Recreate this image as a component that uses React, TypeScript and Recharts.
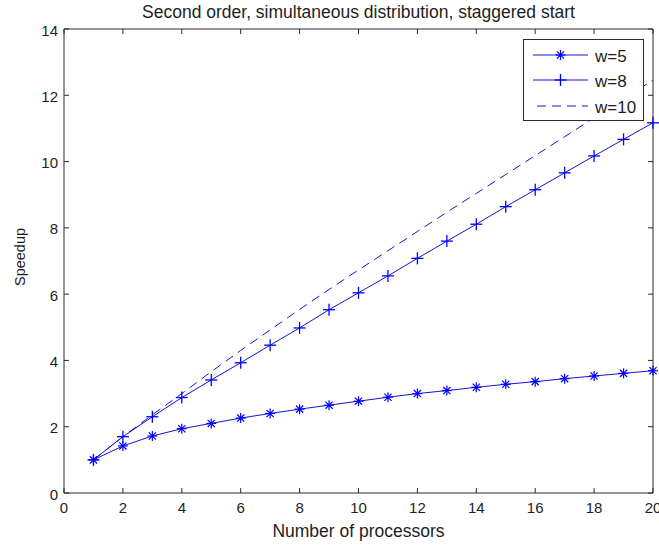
import React from "react";
import { LineChart, Line, XAxis, YAxis } from "recharts";

// Number of processors (x) and measured speedups for three window sizes
const processors = [1, 2, 3, 4, 5, 6, 7, 8, 9, 10, 11, 12, 13, 14, 15, 16, 17, 18, 19, 20];
const speedupW5 = [1.0, 1.42, 1.72, 1.94, 2.1, 2.26, 2.4, 2.53, 2.65, 2.77, 2.89, 3.0, 3.09, 3.19, 3.28, 3.36, 3.45, 3.53, 3.61, 3.69];
const speedupW8 = [1.0, 1.7, 2.3, 2.88, 3.41, 3.93, 4.46, 4.98, 5.53, 6.04, 6.55, 7.08, 7.6, 8.11, 8.64, 9.15, 9.66, 10.17, 10.67, 11.17];
const speedupW10 = [1.0, 1.7, 2.36, 3.0, 3.66, 4.3, 4.92, 5.54, 6.14, 6.73, 7.31, 7.89, 8.47, 9.04, 9.61, 10.18, 10.75, 11.32, 11.89, 12.46];

const xTicks = [0, 2, 4, 6, 8, 10, 12, 14, 16, 18, 20];
const yTicks = [0, 2, 4, 6, 8, 10, 12, 14];
const seriesNames = ["w=5", "w=8", "w=10"];

const titleText = "Second order, simultaneous distribution, staggered start";
const xLabel = "Number of processors";
const yLabel = "Speedup";

const data = processors.map((p, i) => ({
  p,
  w5: speedupW5[i],
  w8: speedupW8[i],
  w10: speedupW10[i],
}));

const FONT = '"Liberation Sans", Arial, sans-serif';
const AXIS = "#2a2a2a";
const TEXT = "#1e1e1e";
const LINE = "#1414d0";
const MARK = "#0000ff";
const TICK_LEN = 5;

const BottomTick = (props: any) => {
  const { x, y, payload } = props;
  return (
    <g>
      <line x1={x} y1={y} x2={x} y2={y - TICK_LEN} stroke={AXIS} strokeWidth={1} />
      <text x={x} y={y + 14} textAnchor="middle" dominantBaseline="central" fontSize={15} fill={TEXT} fontFamily={FONT}>
        {payload.value}
      </text>
    </g>
  );
};

const TopTick = (props: any) => {
  const { x, y } = props;
  return <line x1={x} y1={y} x2={x} y2={y + TICK_LEN} stroke={AXIS} strokeWidth={1} />;
};

const LeftTick = (props: any) => {
  const { x, y, payload } = props;
  return (
    <g>
      <line x1={x} y1={y} x2={x + TICK_LEN} y2={y} stroke={AXIS} strokeWidth={1} />
      <text x={x - 6} y={y + 1} textAnchor="end" dominantBaseline="central" fontSize={15} fill={TEXT} fontFamily={FONT}>
        {payload.value}
      </text>
    </g>
  );
};

const RightTick = (props: any) => {
  const { x, y } = props;
  return <line x1={x} y1={y} x2={x - TICK_LEN} y2={y} stroke={AXIS} strokeWidth={1} />;
};

// "*" marker
const Asterisk = ({ cx, cy, r = 5 }: { cx: number; cy: number; r?: number }) => {
  const d = r * 0.72;
  return (
    <g stroke={MARK} strokeWidth={1.2} fill="none">
      <line x1={cx - r} y1={cy} x2={cx + r} y2={cy} />
      <line x1={cx} y1={cy - r} x2={cx} y2={cy + r} />
      <line x1={cx - d} y1={cy - d} x2={cx + d} y2={cy + d} />
      <line x1={cx - d} y1={cy + d} x2={cx + d} y2={cy - d} />
      <circle cx={cx} cy={cy} r={1.3} fill={MARK} stroke="none" />
    </g>
  );
};

// "+" marker
const Plus = ({ cx, cy, r = 6 }: { cx: number; cy: number; r?: number }) => (
  <g stroke={MARK} strokeWidth={1.3} fill="none">
    <line x1={cx - r} y1={cy} x2={cx + r} y2={cy} />
    <line x1={cx} y1={cy - r} x2={cx} y2={cy + r} />
  </g>
);

const asteriskDot = (props: any) => <Asterisk key={`a-${props.index}`} cx={props.cx} cy={props.cy} />;
const plusDot = (props: any) => <Plus key={`p-${props.index}`} cx={props.cx} cy={props.cy} />;

const LegendBox = () => (
  <svg width={121} height={82} style={{ display: "block" }}>
    <rect x={0.5} y={0.5} width={120} height={81} fill="#fff" stroke={AXIS} strokeWidth={1} />
    <line x1={10} y1={16} x2={65} y2={16} stroke={LINE} strokeWidth={1} />
    <Asterisk cx={37.5} cy={16} />
    <text x={72} y={17} dominantBaseline="central" fontSize={17} fill={TEXT} fontFamily={FONT}>{seriesNames[0]}</text>
    <line x1={10} y1={41} x2={65} y2={41} stroke={LINE} strokeWidth={1} />
    <Plus cx={37.5} cy={41} />
    <text x={72} y={42} dominantBaseline="central" fontSize={17} fill={TEXT} fontFamily={FONT}>{seriesNames[1]}</text>
    <line x1={14} y1={67} x2={65} y2={67} stroke={LINE} strokeWidth={1} strokeDasharray="9 6" />
    <text x={72} y={68} dominantBaseline="central" fontSize={17} fill={TEXT} fontFamily={FONT}>{seriesNames[2]}</text>
  </svg>
);

export default function App() {
  return (
    <div style={{ position: "absolute", left: 0, top: 0, width: 659, height: 547, background: "#fff", fontFamily: FONT }}>
      <LineChart
        width={659}
        height={547}
        data={data}
        margin={{ top: 28, right: 5, bottom: 53, left: 63 }}
        style={{ position: "absolute", left: 0, top: 0 }}
      >
        <XAxis
          xAxisId="b"
          dataKey="p"
          type="number"
          domain={[0, 20]}
          ticks={xTicks}
          height={1}
          tickSize={0}
          tickMargin={0}
          tickLine={false}
          tick={<BottomTick />}
          stroke={AXIS}
          interval={0}
        />
        <XAxis
          xAxisId="t"
          orientation="top"
          dataKey="p"
          type="number"
          domain={[0, 20]}
          ticks={xTicks}
          height={1}
          tickSize={0}
          tickMargin={0}
          tickLine={false}
          tick={<TopTick />}
          stroke={AXIS}
          interval={0}
        />
        <YAxis
          yAxisId="l"
          type="number"
          domain={[0, 14]}
          ticks={yTicks}
          width={1}
          tickSize={0}
          tickMargin={0}
          tickLine={false}
          tick={<LeftTick />}
          stroke={AXIS}
          interval={0}
        />
        <YAxis
          yAxisId="r"
          orientation="right"
          type="number"
          domain={[0, 14]}
          ticks={yTicks}
          width={1}
          tickSize={0}
          tickMargin={0}
          tickLine={false}
          tick={<RightTick />}
          stroke={AXIS}
          interval={0}
        />
        <Line
          xAxisId="b"
          yAxisId="l"
          dataKey="w10"
          name={seriesNames[2]}
          stroke={LINE}
          strokeWidth={1}
          strokeDasharray="9 6"
          dot={false}
          isAnimationActive={false}
        />
        <Line
          xAxisId="b"
          yAxisId="l"
          dataKey="w8"
          name={seriesNames[1]}
          stroke={LINE}
          strokeWidth={1}
          dot={plusDot}
          isAnimationActive={false}
        />
        <Line
          xAxisId="t"
          yAxisId="r"
          dataKey="w5"
          name={seriesNames[0]}
          stroke={LINE}
          strokeWidth={1}
          dot={asteriskDot}
          isAnimationActive={false}
        />
      </LineChart>
      <div
        style={{
          position: "absolute",
          left: 64,
          width: 589,
          top: 1,
          textAlign: "center",
          fontSize: 17.5,
          color: TEXT,
          lineHeight: "22px",
          whiteSpace: "nowrap",
        }}
      >
        {titleText}
      </div>
      <div
        style={{
          position: "absolute",
          left: 64,
          width: 589,
          top: 520,
          textAlign: "center",
          fontSize: 17.5,
          color: TEXT,
          lineHeight: "22px",
          whiteSpace: "nowrap",
        }}
      >
        {xLabel}
      </div>
      <div
        style={{
          position: "absolute",
          left: 20,
          top: 257,
          transform: "translate(-50%, -50%) rotate(-90deg)",
          fontSize: 14.5,
          color: TEXT,
          whiteSpace: "nowrap",
        }}
      >
        {yLabel}
      </div>
      <div style={{ position: "absolute", left: 523, top: 39 }}>
        <LegendBox />
      </div>
    </div>
  );
}
